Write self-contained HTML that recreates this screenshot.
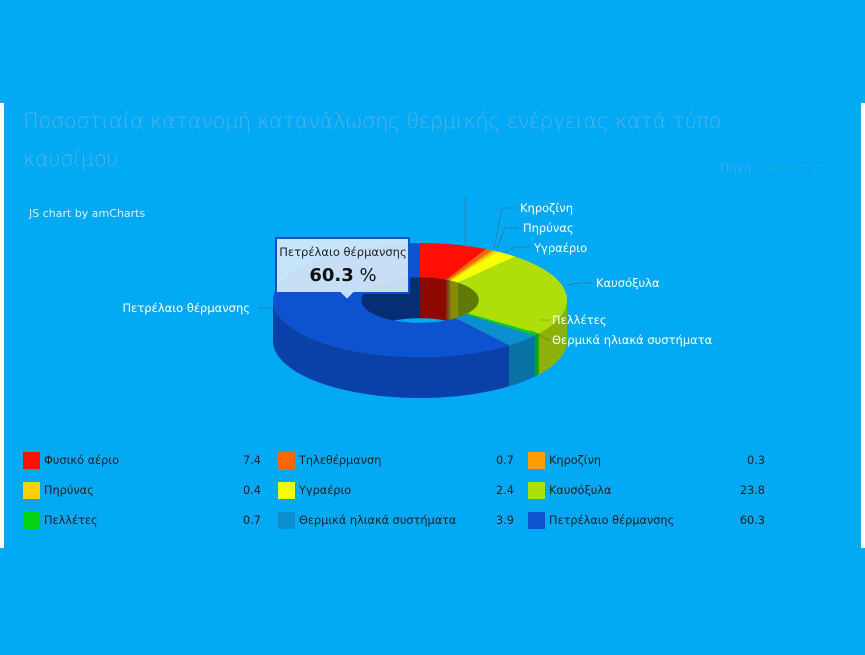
<!DOCTYPE html>
<html><head><meta charset="utf-8"><style>
body{margin:0;width:865px;height:655px;background:#03A9F4;overflow:hidden;position:relative;font-family:"DejaVu Sans","Liberation Sans",sans-serif}
#panel{position:absolute;left:0;top:103px;width:865px;height:445px;background:#03A9F4;border-left:4px solid #fff;border-right:4px solid #fff;box-sizing:border-box}
.t{position:absolute;color:#4fb2e6;font-family:"DejaVu Sans","Liberation Sans",sans-serif;font-weight:200}
.lg{position:absolute;font-size:11.3px;color:#222}
.sw{position:absolute;width:17px;height:17px}
.lbl{font-size:11.5px;fill:#fff}
</style></head><body>
<div id="panel"></div>
<div class="t" style="left:23px;top:102px;font-size:21px;line-height:38px;width:740px;letter-spacing:-0.4px">Ποσοστιαία κατανομή κατανάλωσης θερμικής ενέργειας κατά τύπο καυσίμου</div>
<div class="t" style="left:720px;top:161px;font-size:12px">Πηγή:<span style="color:#1bb4d6">statistics.gr</span></div>
<div style="position:absolute;left:29px;top:207px;font-size:11px;color:#d8f0ff">JS chart by amCharts</div>
<svg id="s" width="865" height="655" style="position:absolute;left:0;top:0"></svg>
<div id="leg"></div>
<script>
var cx=420,cy=300,rx=147,ry=57,d=41,ir=0.4;
var data=[["Φυσικό αέριο",7.4,"#FF0F00"],["Τηλεθέρμανση",0.7,"#FF6600"],["Κηροζίνη",0.3,"#FF9E01"],["Πηρύνας",0.4,"#FCD202"],["Υγραέριο",2.4,"#F8FF01"],["Καυσόξυλα",23.8,"#B0DE09"],["Πελλέτες",0.7,"#04D215"],["Θερμικά ηλιακά συστήματα",3.9,"#0D8ECF"],["Πετρέλαιο θέρμανσης",60.3,"#0D52D1"]];
var PI=Math.PI;
function P(a,k,z){return [cx+rx*k*Math.sin(a),cy-ry*k*Math.cos(a)+z];}
function dk(c,f){var n=parseInt(c.slice(1),16);var r=(n>>16)*f|0,g=((n>>8)&255)*f|0,b=(n&255)*f|0;return "rgb("+r+","+g+","+b+")";}
var tot=0;data.forEach(function(e){tot+=e[1]});
var a=0,sl=[];data.forEach(function(e){var a2=a+e[1]/tot*2*PI;sl.push([a,a2,e[2]]);a=a2;});
var out="";
function arc(a1,a2,k,z,rev){var pts=[],n=40;for(var i=0;i<=n;i++){var t=rev?a2-(a2-a1)*i/n:a1+(a2-a1)*i/n;pts.push(P(t,k,z));}return pts;}
function poly(p,c,op){return '<path d="M'+p.map(function(q){return q[0].toFixed(1)+','+q[1].toFixed(1)}).join('L')+'Z" fill="'+c+'" fill-opacity="'+(op||1)+'"/>';}
function inter(a1,a2,b1,b2){var s=Math.max(a1,b1),e=Math.min(a2,b2);return s<e?[s,e]:null;}
sl.forEach(function(s){[[0,PI/2],[1.5*PI,2*PI]].forEach(function(r){var q=inter(s[0],s[1],r[0],r[1]);if(q){var b=arc(q[0],q[1],ir,0,false).concat(arc(q[0],q[1],ir,d,true));out+=poly(b,dk(s[2],0.55),1);}});});
sl.forEach(function(s){var q=inter(s[0],s[1],PI/2,1.5*PI);if(q){var b=arc(q[0],q[1],1,0,false).concat(arc(q[0],q[1],1,d,true));out+=poly(b,dk(s[2],0.8),1);}});
sl.forEach(function(s){var b=arc(s[0],s[1],1,0,false).concat(arc(s[0],s[1],ir,0,true));out+=poly(b,s[2],1);});
function L(x1,y1,x2,y2,x3,tx,ty,txt,anc){out+='<polyline points="'+x1+','+y1+' '+x2+','+y2+' '+x3+','+y2+'" fill="none" stroke="#555" stroke-width="0.7" opacity="0.6"/><text class="lbl" x="'+tx+'" y="'+ty+'" text-anchor="'+(anc||"start")+'">'+txt+'</text>';}
L(465,245,465,197,465,0,0,"");
L(494,248,502,208,516,520,212,"Κηροζίνη");
L(497,248,505,228,519,523,232,"Πηρύνας");
L(505,252,515,247,530,534,252,"Υγραέριο");
L(568,285,580,283,592,596,287,"Καυσόξυλα");
L(540,320,548,320,550,552,324,"Πελλέτες");
L(530,330,548,340,550,552,344,"Θερμικά ηλιακά συστήματα");
L(273,308,262,308,258,250,312,"Πετρέλαιο θέρμανσης","end");
out+='<path d="M276,238H409V293H354L347,300L340,293H276Z" fill="#d6ecfa" fill-opacity="0.92" stroke="#0D52D1" stroke-width="2"/>';
out+='<text x="343" y="256" text-anchor="middle" font-size="11.5" fill="#222">Πετρέλαιο θέρμανσης</text>';
out+='<text x="343" y="281" text-anchor="middle" font-size="18" fill="#111"><tspan font-weight="bold">60.3</tspan> %</text>';
document.getElementById("s").innerHTML=out;
var xs=[23,278,528],vr=[261,514,765],h="";
data.forEach(function(e,i){var c=i%3,r=Math.floor(i/3),y=452+r*30;h+='<div class="sw" style="left:'+xs[c]+'px;top:'+y+'px;background:'+e[2]+'"></div><div class="lg" style="left:'+(xs[c]+21)+'px;top:'+(y+2)+'px">'+e[0]+'</div><div class="lg" style="left:'+(vr[c]-60)+'px;width:60px;text-align:right;top:'+(y+2)+'px">'+e[1]+'</div>';});
document.getElementById("leg").innerHTML=h;
</script>
</body></html>
